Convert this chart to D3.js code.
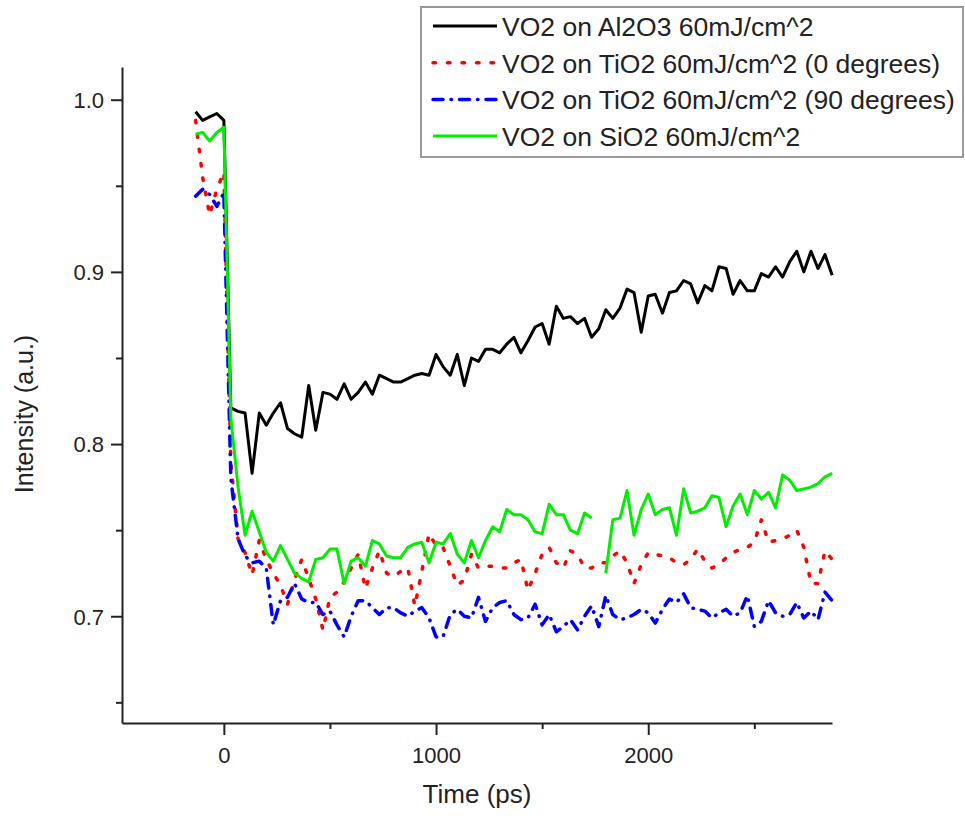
<!DOCTYPE html>
<html>
<head>
<meta charset="utf-8">
<script src="https://cdn.jsdelivr.net/npm/d3@7"></script>
<style>
  body { margin: 0; background: #fff; }
  text { font-family: "Liberation Sans", Arial, sans-serif; fill: #222; }
</style>
</head>
<body>
<div id="container"></div>
<script>
// time axis (ps)
let times = [-133,-100,-67,-33,0,
  33,67,100,133,167,200,233,267,300,333,367,400,433,467,500,533,567,600,633,667,700,733,767,800,833,867,900,933,967,1000,
  1033,1067,1100,1133,1167,1200,1233,1267,1300,1333,1367,1400,1433,1467,1500,1533,1567,1600,1633,1667,1700,1733,1767,1800,1833,1867,1900,1933,1967,2000,
  2033,2067,2100,2133,2167,2200,2233,2267,2300,2333,2367,2400,2433,2467,2500,2533,2567,2600,2633,2667,2700,2733,2767,2800,2833,2867];

let al2o3 = [0.993,0.988,0.990,0.992,0.988,
  0.821,0.819,0.818,0.783,0.818,0.811,0.818,0.824,0.809,0.806,0.804,0.834,0.808,0.830,0.829,
  0.826,0.835,0.826,0.830,0.836,0.829,0.840,0.838,0.836,0.836,0.838,0.840,0.841,0.840,0.852,
  0.845,0.840,0.852,0.834,0.850,0.848,0.855,0.855,0.853,0.858,0.862,0.853,0.860,0.868,0.870,
  0.858,0.880,0.873,0.874,0.870,0.873,0.862,
  0.867,0.878,0.873,0.879,0.890,0.888,0.865,0.886,0.887,0.876,0.888,0.889,0.895,0.893,0.882,
  0.892,0.889,0.903,0.902,0.887,0.895,0.889,0.889,0.899,0.897,0.903,0.897,0.906,0.912,0.900,
  0.912,0.902,0.910,0.898];

let tio2_0 = [0.988,0.955,0.933,0.948,0.958,
  0.790,0.745,0.737,0.724,0.744,0.733,0.725,0.718,0.707,0.721,0.733,0.722,0.710,0.692,0.711,
  0.714,0.720,0.728,0.736,0.716,0.728,0.738,0.725,0.723,0.726,0.728,0.706,0.726,0.748,0.741,
  0.740,0.729,0.718,0.721,0.736,0.728,0.729,0.729,0.728,0.728,0.731,0.733,0.715,0.725,0.736,
  0.740,0.731,0.728,0.738,0.736,0.728,0.728,0.731,0.731,0.735,0.738,0.731,0.719,0.730,0.737,
  0.736,0.735,0.734,0.731,0.730,0.733,0.739,0.732,0.728,0.730,0.734,0.737,0.739,0.740,0.743,
  0.756,0.743,0.744,0.745,0.747,0.750,0.740,0.719,0.719,0.738,0.733];

let tio2_90 = [0.944,0.948,0.945,0.938,0.946,
  0.780,0.745,0.735,0.731,0.732,0.728,0.695,0.709,0.711,0.719,0.710,0.708,0.708,0.701,0.703,
  0.695,0.688,0.700,0.709,0.709,0.705,0.701,0.705,0.705,0.702,0.700,0.703,0.705,0.699,0.688,
  0.688,0.701,0.704,0.700,0.699,0.711,0.697,0.705,0.708,0.709,0.701,0.698,0.699,0.707,0.695,
  0.701,0.691,0.694,0.698,0.692,0.700,0.706,0.694,0.712,0.701,0.698,0.699,0.701,0.704,0.702,
  0.696,0.704,0.710,0.708,0.713,0.705,0.704,0.703,0.699,0.702,0.704,0.700,0.702,0.712,0.694,
  0.697,0.709,0.702,0.700,0.701,0.708,0.699,0.703,0.698,0.714,0.709];

let sio2 = [0.980,0.981,0.976,0.981,0.984,
  0.815,0.775,0.747,0.761,0.749,0.737,0.732,0.741,0.733,0.725,0.722,0.720,0.733,0.734,0.739,
  0.739,0.719,0.732,0.734,0.729,0.744,0.742,0.735,0.734,0.734,0.740,0.742,0.743,0.731,0.743,
  0.742,0.748,0.736,0.731,0.744,0.734,0.744,0.752,0.749,0.762,0.759,0.759,0.756,0.749,0.748,
  0.765,0.759,0.759,0.750,0.748,0.760,0.757,null,
  0.725,0.756,0.757,0.773,0.747,0.762,0.771,0.759,0.762,0.763,0.747,0.774,0.760,0.761,0.763,
  0.770,0.769,0.752,0.764,0.771,0.759,0.773,0.768,0.772,0.763,0.782,0.779,0.773,0.774,0.775,
  0.777,0.781,0.783];

let seriesNames = ["VO2 on Al2O3 60mJ/cm^2", "VO2 on TiO2 60mJ/cm^2 (0 degrees)",
  "VO2 on TiO2 60mJ/cm^2 (90 degrees)", "VO2 on SiO2 60mJ/cm^2"];
let seriesValues = [al2o3, tio2_0, tio2_90, sio2];
let seriesColors = ["#000000", "#ff0000", "#0000ff", "#00ee00"];
let seriesDash = [null, "2.5,12", "10,8,0.5,8", null];

let xMajor = [0, 1000, 2000];
let xMinor = [500, 1500, 2500];
let yMajor = [0.7, 0.8, 0.9, 1.0];
let yMinor = [0.65, 0.75, 0.85, 0.95];

let w = 965;
let h = 818;

let viz = d3.select("#container")
  .append("svg")
    .attr("width", w)
    .attr("height", h)
;

let xScale = d3.scaleLinear().domain([-480, 2866]).range([122, 832]);
let yScale = d3.scaleLinear().domain([0.638, 1.019]).range([723, 67]);

// axes
let xAxis = d3.axisBottom(xScale).tickValues(xMajor).tickSize(12).tickSizeOuter(0)
  .tickFormat(d3.format("d"));
let xAxisGroup = viz.append("g")
    .attr("class", "xaxisgroup")
    .attr("transform", "translate(0,723)")
    .call(xAxis);
let xMinorGroup = viz.append("g")
    .attr("transform", "translate(0,723)")
    .call(d3.axisBottom(xScale).tickValues(xMinor).tickSize(6).tickFormat(""));
xMinorGroup.select(".domain").remove();

let yAxis = d3.axisLeft(yScale).tickValues(yMajor).tickSize(11).tickSizeOuter(0)
  .tickFormat(d3.format(".1f"));
let yAxisGroup = viz.append("g")
    .attr("class", "yaxisgroup")
    .attr("transform", "translate(122,0)")
    .call(yAxis);
let yMinorGroup = viz.append("g")
    .attr("transform", "translate(122,0)")
    .call(d3.axisLeft(yScale).tickValues(yMinor).tickSize(6).tickFormat(""));
yMinorGroup.select(".domain").remove();

viz.selectAll(".domain, .tick line")
  .attr("stroke", "#222")
  .attr("stroke-width", 2);
xAxisGroup.selectAll(".tick text")
  .style("font-size", "22px").attr("dy", null).attr("y", 40)
  .style("fill", "#222");
yAxisGroup.selectAll(".tick text")
  .style("font-size", "22px").attr("x", -18).attr("dy", "0.36em")
  .style("fill", "#222");

// axis titles
viz.append("text")
  .attr("x", 477).attr("y", 803)
  .attr("text-anchor", "middle")
  .style("font-size", "26px")
  .text("Time (ps)");
viz.append("text")
  .attr("transform", "translate(33,414) rotate(-90)")
  .attr("text-anchor", "middle")
  .style("font-size", "25px")
  .text("Intensity (a.u.)");

// lines
let graphGroup = viz.append("g").attr("class", "graphGroup");
let lineMaker = d3.line()
  .defined(function(d){ return d.v != null; })
  .x(function(d){ return xScale(d.t); })
  .y(function(d){ return yScale(d.v); })
;

let lineData = seriesValues.map(function(vals){
  return vals.map(function(v, i){ return {t: times[i], v: v}; });
});

graphGroup.selectAll(".line").data(lineData).enter()
  .append("path")
    .attr("class", "line")
    .attr("d", lineMaker)
    .attr("fill", "none")
    .attr("stroke", function(d, i){ return seriesColors[i]; })
    .attr("stroke-width", function(d, i){ return seriesDash[i] ? 3.5 : 3; })
    .attr("stroke-linecap", function(d, i){ return seriesDash[i] ? "round" : "butt"; })
    .attr("stroke-linejoin", "round")
    .attr("stroke-dasharray", function(d, i){ return seriesDash[i]; })
;

// legend
let legend = viz.append("g").attr("class", "legend");
legend.append("rect")
  .attr("x", 421).attr("y", 7)
  .attr("width", 542).attr("height", 150)
  .attr("fill", "#fff")
  .attr("stroke", "#999")
  .attr("stroke-width", 2);

let rowY = [26, 62.7, 99.4, 136];
seriesNames.forEach(function(name, i){
  legend.append("line")
    .attr("x1", 433).attr("x2", 497)
    .attr("y1", rowY[i]).attr("y2", rowY[i])
    .attr("stroke", seriesColors[i])
    .attr("stroke-width", seriesDash[i] ? 3.5 : 3)
    .attr("stroke-linecap", seriesDash[i] ? "round" : "butt")
    .attr("stroke-dasharray", seriesDash[i]);
  legend.append("text")
    .attr("x", 502).attr("y", rowY[i] + 10)
    .style("font-size", "26.5px")
    .text(name);
});
</script>
</body>
</html>
